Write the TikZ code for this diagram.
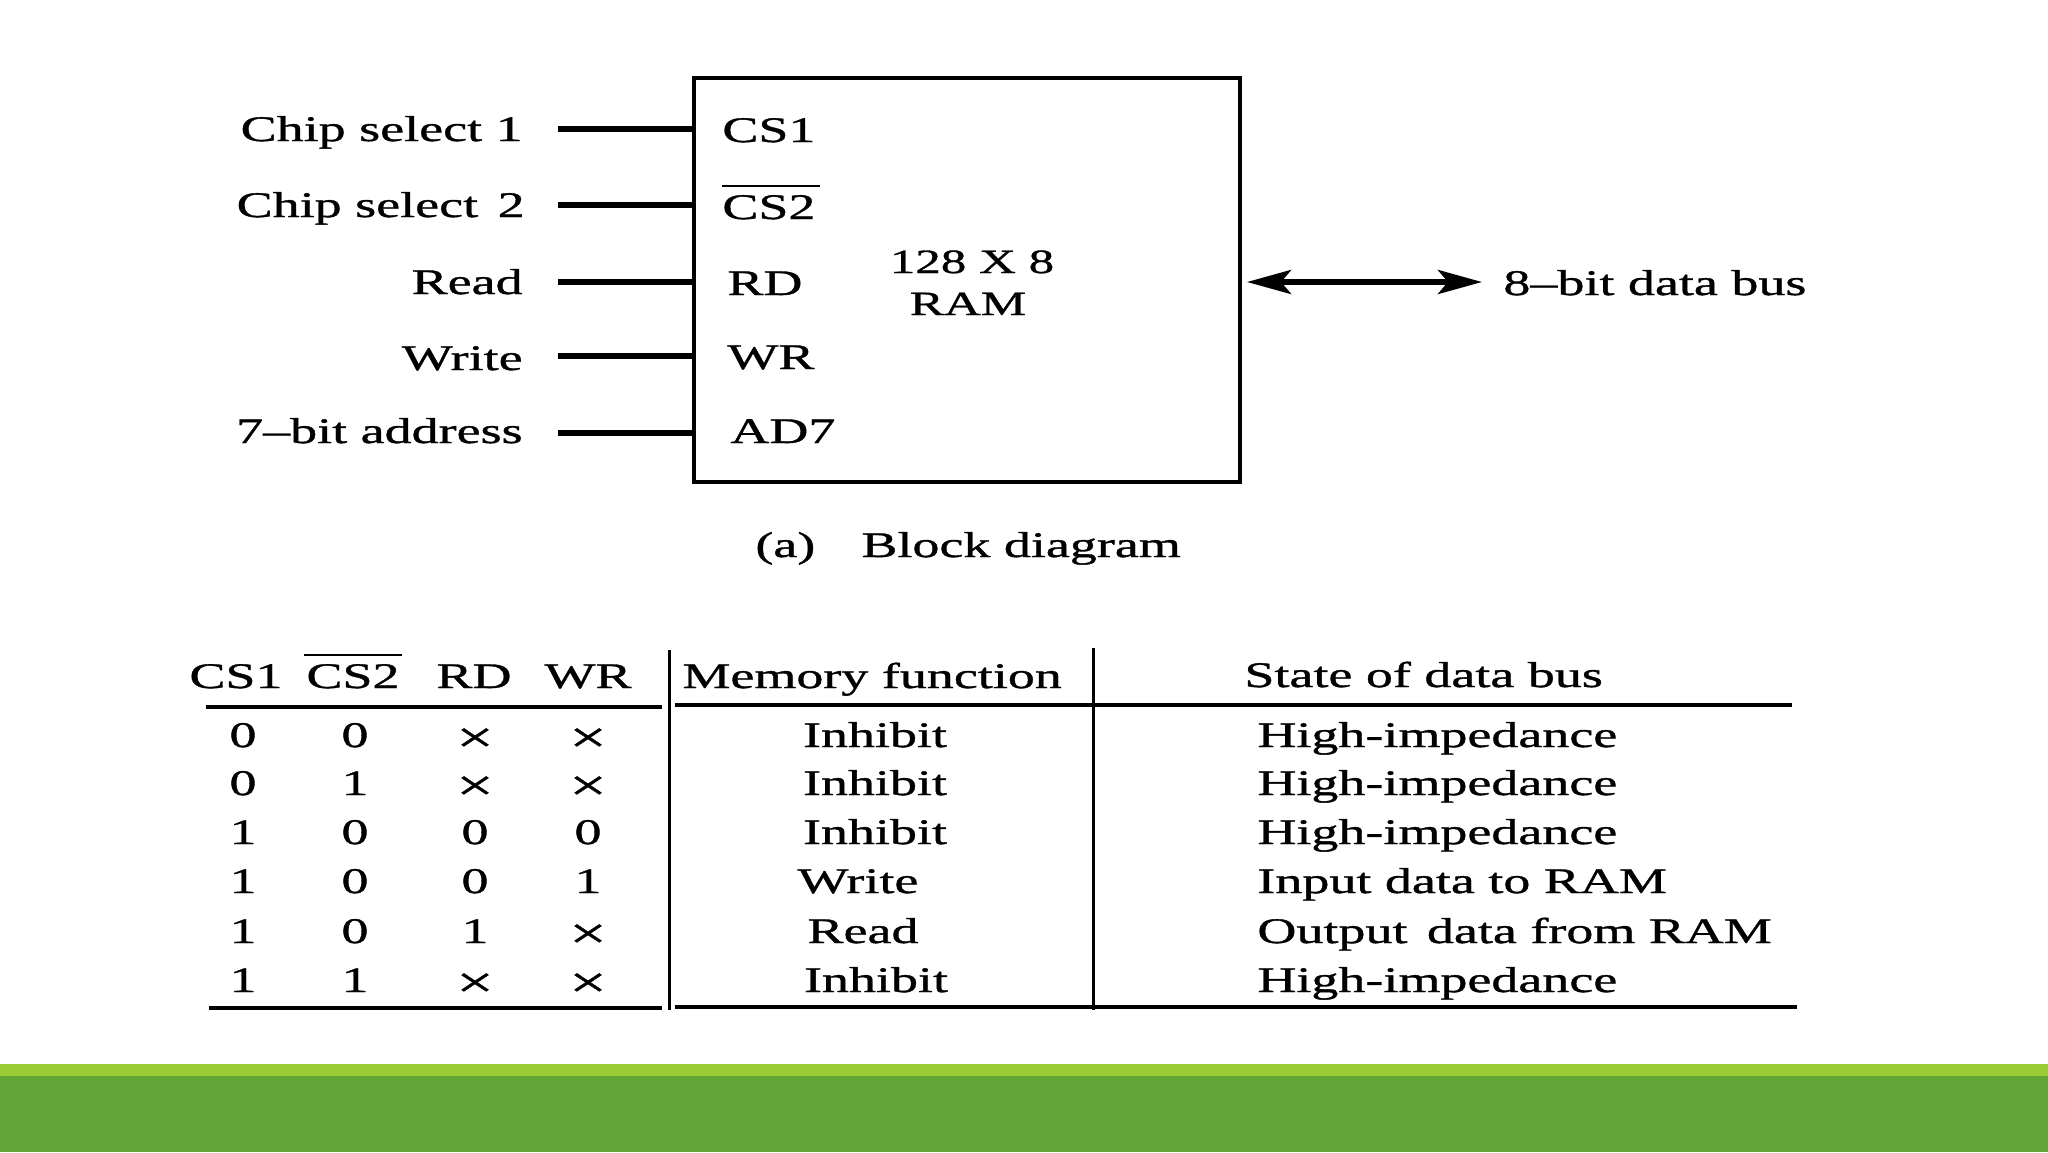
\documentclass[tikz,border=0pt]{standalone}
\usepackage{fontspec}
\setmainfont{Liberation Serif}[FakeStretch=1.5,FakeBold=1]
\usetikzlibrary{arrows.meta}
\definecolor{lightgreen}{RGB}{154,204,52}
\definecolor{darkgreen}{RGB}{98,166,56}
\newcommand\crossmark{\raisebox{-2.5pt}{\fontsize{22}{24}\selectfont ×}}
\begin{document}
\begin{tikzpicture}[x=0.5pt,y=-0.5pt,
  txt/.style={inner sep=0pt, font=\fontsize{18}{21}\selectfont},
  ramtxt/.style={inner sep=0pt, font=\fontsize{17}{20}\selectfont},
  ramblock/.style={draw, line width=2pt, inner sep=0pt},
  pinline/.style={line width=3pt},
  busline/.style={line width=2.8pt, {Stealth[length=22pt,width=12pt,inset=5pt]}-{Stealth[length=22pt,width=12pt,inset=5pt]}},
  ovl/.style={line width=1.2pt},
  rule/.style={line width=1.6pt},
  vrule/.style={line width=1.5pt}]
\useasboundingbox (0,0) rectangle (2048,1152);
\fill[white] (0,0) rectangle (2048,1152);
% green bars
\fill[lightgreen] (0,1064) rectangle (2048,1076);
\fill[darkgreen] (0,1076) rectangle (2048,1152);

% RAM block
\node[ramblock, minimum width=273pt, minimum height=202pt] (ram) at (967,280) {};
\node[ramtxt, anchor=base] (size) at (972,273) {128 X 8};
\node[ramtxt, anchor=base] (ramlbl) at (968,315) {RAM};

% left labels
\node[txt, anchor=base east] (lcs1) at (523,141) {Chip select 1};
\node[txt, anchor=base east] (lcs2) at (525,217) {Chip select\, 2};
\node[txt, anchor=base east] (lrd) at (523,294) {Read};
\node[txt, anchor=base east] (lwr) at (523,370) {Write};
\node[txt, anchor=base east] (lad) at (523,443) {7–bit address};

% inner pin labels
\node[txt, anchor=base west] (ics1) at (722,142) {CS1};
\node[txt, anchor=base west] (ics2) at (722,219) {CS2};
\node[txt, anchor=base west] (ird) at (727,295) {RD};
\node[txt, anchor=base west] (iwr) at (727,369) {WR};
\node[txt, anchor=base west] (iad) at (730,443) {AD7};
\draw[ovl] ([yshift=4.5pt]ics2.north west) -- ([yshift=4.5pt,xshift=2pt]ics2.north east);

% pin lines
\coordinate (p1) at (558,129);
\coordinate (p2) at (558,205);
\coordinate (p3) at (558,282);
\coordinate (p4) at (558,356);
\coordinate (p5) at (558,433);
\foreach \p in {p1,p2,p3,p4,p5}{
  \draw[pinline] (\p) -- (\p -| ram.west);
}

% data bus
\coordinate (b1) at (1247,282);
\coordinate (b2) at (1482,282);
\draw[busline] (b1) -- (b2);
\node[txt, anchor=base west] (busl) at (1503,295) {8–bit data bus};

% caption
\node[txt, anchor=base west] (capa) at (755,557) {(a)};
\node[txt, anchor=base west] (capb) at (861,557) {Block diagram};

% table header
\node[txt, anchor=base] (hcs1) at (236,688) {CS1};
\node[txt, anchor=base] (hcs2) at (353,688) {CS2};
\node[txt, anchor=base] (hrd) at (474,688) {RD};
\node[txt, anchor=base] (hwr) at (588,688) {WR};
\node[txt, anchor=base west] (hmf) at (682,688) {Memory function};
\node[txt, anchor=base west] (hst) at (1244,687) {State of data bus};
\draw[ovl] ([yshift=4.5pt,xshift=-1pt]hcs2.north west) -- ([yshift=4.5pt,xshift=1pt]hcs2.north east);

% table rules
\coordinate (hl1) at (206,707); \coordinate (hl2) at (662,707);
\coordinate (hr1) at (675,705); \coordinate (hr2) at (1792,705);
\coordinate (bl1) at (209,1008); \coordinate (bl2) at (662,1008);
\coordinate (br1) at (675,1007); \coordinate (br2) at (1797,1007);
\coordinate (v1a) at (669,650); \coordinate (v1b) at (669,1010);
\coordinate (v2a) at (1093,648); \coordinate (v2b) at (1093,1010);
\draw[rule] (hl1) -- (hl2);
\draw[rule] (hr1) -- (hr2);
\draw[rule] (bl1) -- (bl2);
\draw[rule] (br1) -- (br2);
\draw[vrule] (v1a) -- (v1b);
\draw[vrule] (v2a) -- (v2b);

% table rows
\foreach \y/\a/\b/\c/\d/\mx/\m/\s [count=\i] in {
  747/0/0/\crossmark/\crossmark/875/Inhibit/High-impedance,
  795/0/1/\crossmark/\crossmark/875/Inhibit/High-impedance,
  844/1/0/0/0/875/Inhibit/High-impedance,
  893/1/0/0/1/858/Write/Input data to RAM,
  943/1/0/1/\crossmark/863/Read/Output\, data from RAM,
  992/1/1/\crossmark/\crossmark/876/Inhibit/High-impedance}{
  \node[txt, anchor=base] (r\i c1) at (243,\y) {\a};
  \node[txt, anchor=base] (r\i c2) at (355,\y) {\b};
  \node[txt, anchor=base] (r\i c3) at (475,\y) {\c};
  \node[txt, anchor=base] (r\i c4) at (588,\y) {\d};
  \node[txt, anchor=base] (r\i mf) at (\mx,\y) {\m};
  \node[txt, anchor=base west] (r\i st) at (1257,\y) {\s};
}
\end{tikzpicture}
\end{document}
